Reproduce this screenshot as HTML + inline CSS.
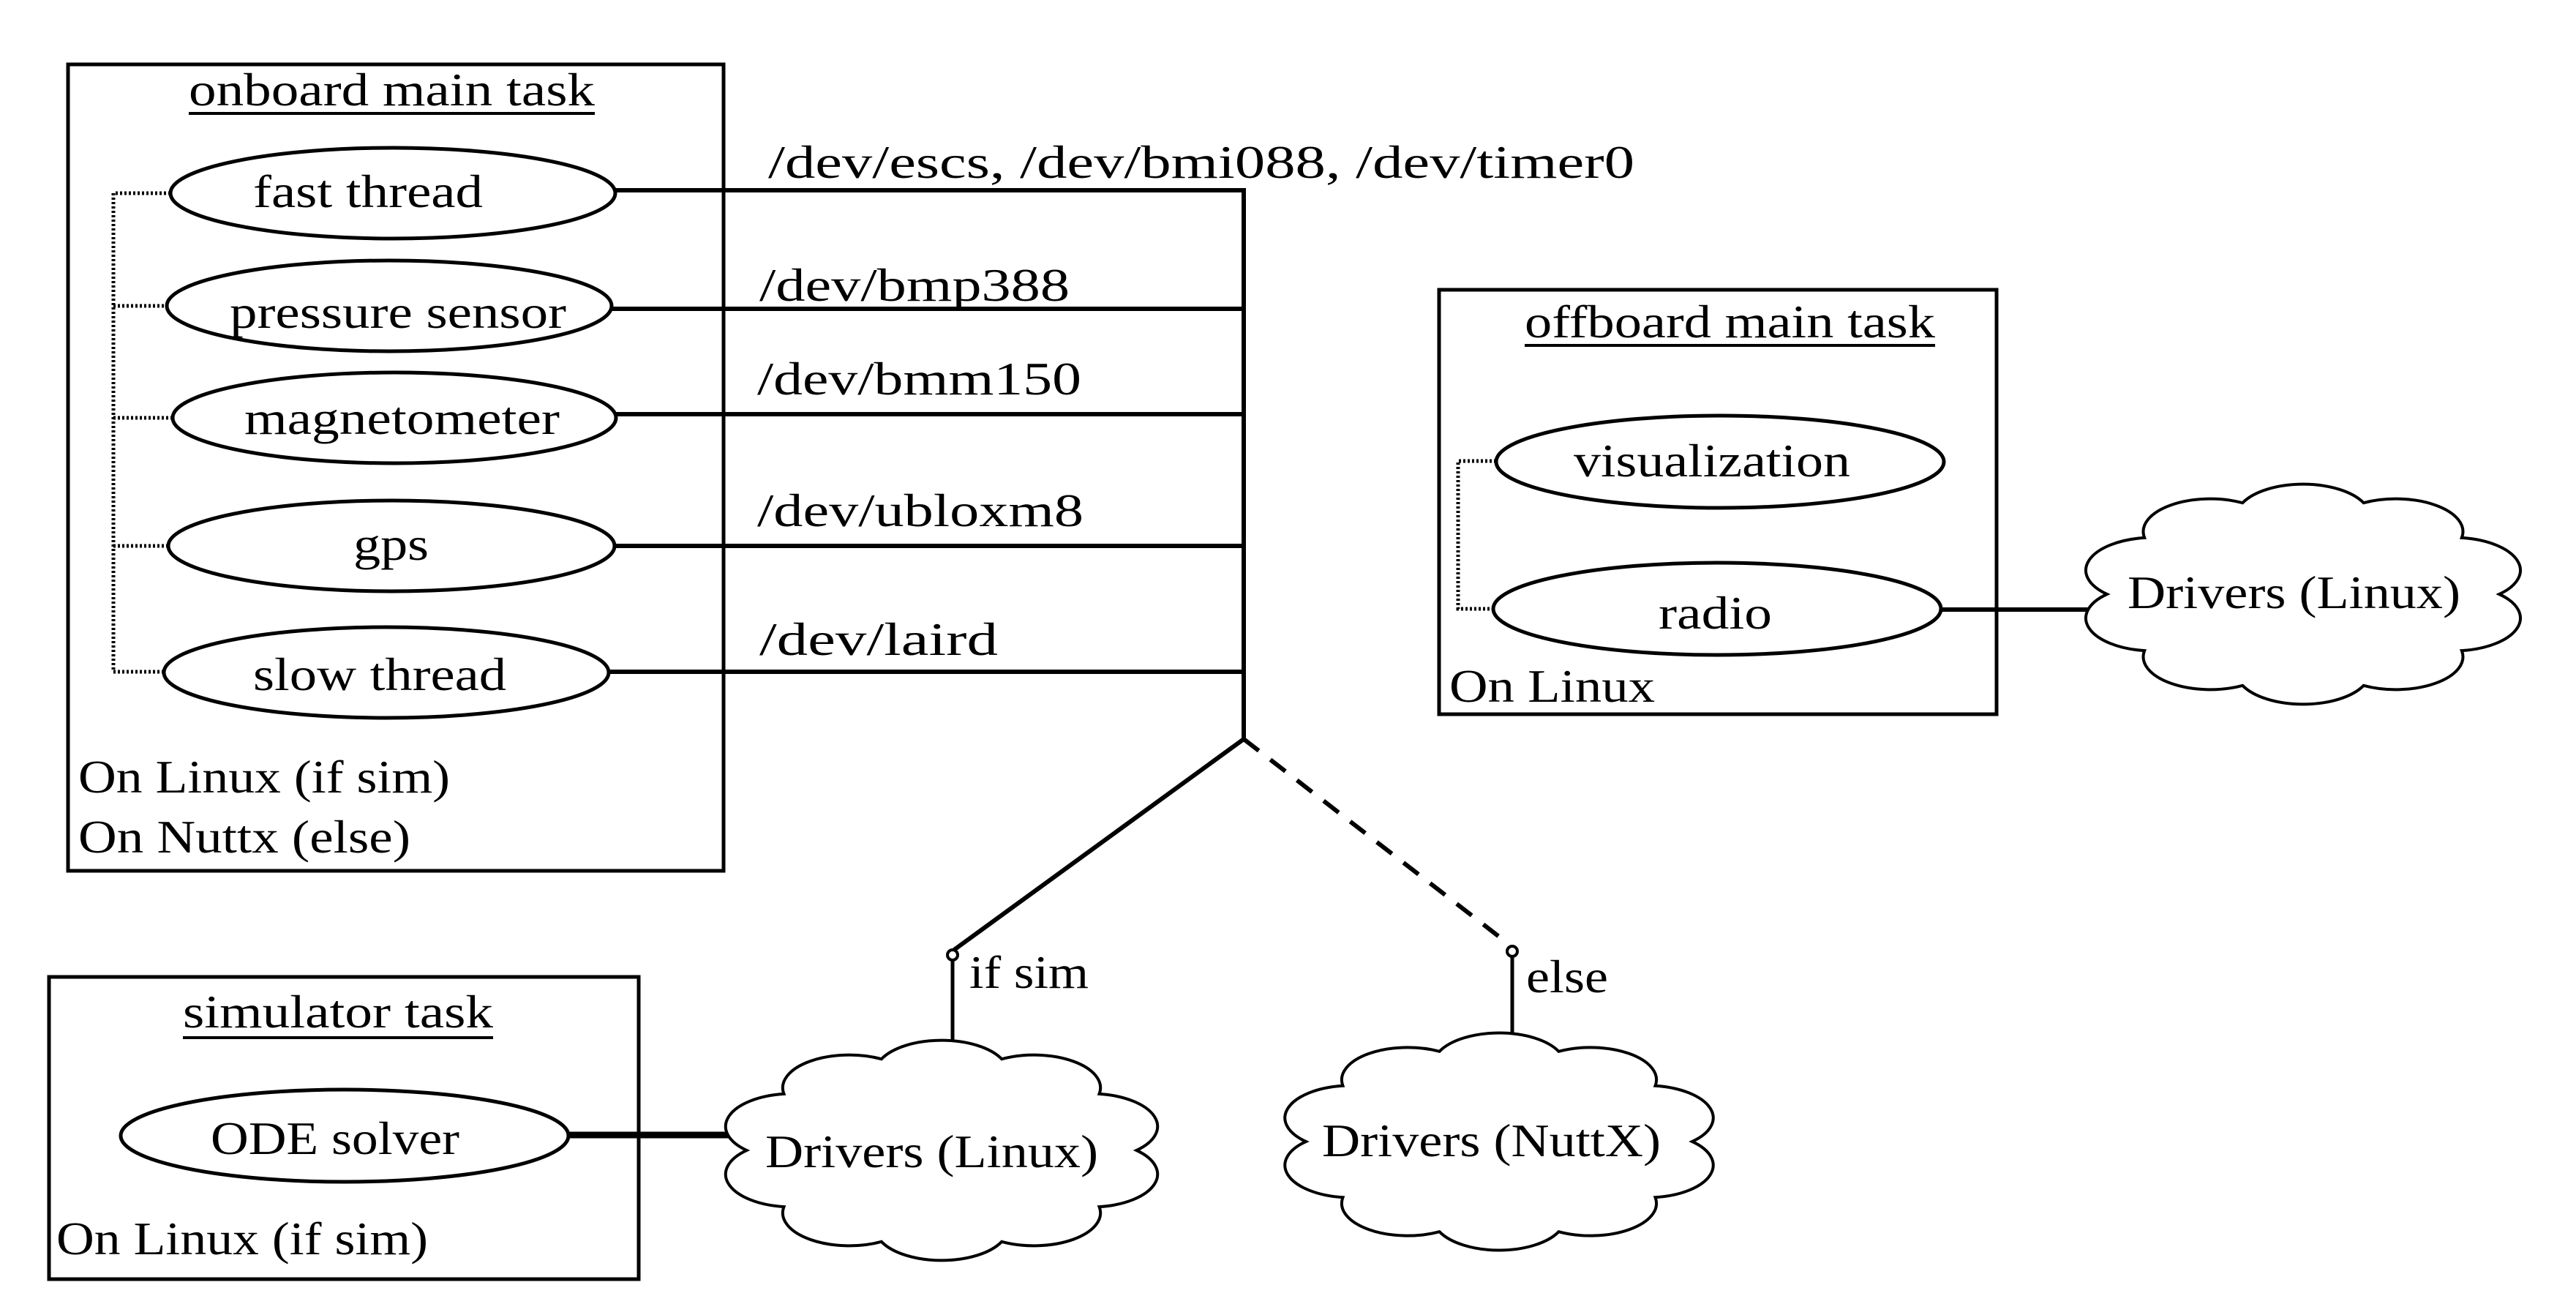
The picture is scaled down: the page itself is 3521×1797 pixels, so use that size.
<!DOCTYPE html>
<html><head><meta charset="utf-8"><style>html,body{margin:0;padding:0;background:#fff}svg{display:block}</style></head>
<body>
<svg width="3521" height="1797" viewBox="0 0 3521 1797" xmlns="http://www.w3.org/2000/svg" font-family="Liberation Serif, serif" font-size="64" fill="#000">
<g stroke="#000" fill="none">
<!-- onboard box -->
<rect x="93" y="88" width="896" height="1102" stroke-width="5"/>
<!-- connectors -->
<g stroke-width="6">
<polyline points="842,260 1700,260 1700,1010"/>
<line x1="836" y1="422" x2="1700" y2="422"/>
<line x1="842" y1="566" x2="1700" y2="566"/>
<line x1="840" y1="746" x2="1700" y2="746"/>
<line x1="833" y1="918" x2="1700" y2="918"/>
<line x1="1700" y1="1010" x2="1304" y2="1298"/>
<line x1="1302" y1="1312" x2="1302" y2="1442" stroke-width="5"/>
<line x1="1700" y1="1010" x2="2062" y2="1290" stroke-dasharray="26,20"/>
<line x1="2067" y1="1307" x2="2067" y2="1440" stroke-width="5"/>
<line x1="778" y1="1551" x2="1025" y2="1551" stroke-width="9"/>
<line x1="2653" y1="833" x2="2885" y2="833"/>
</g>
<circle cx="1302" cy="1305" r="7" stroke-width="4" fill="#fff"/>
<circle cx="2067" cy="1300" r="7" stroke-width="4" fill="#fff"/>
<!-- dotted trees -->
<g stroke-width="5" stroke-dasharray="3,3">
<polyline points="233,264 155,264 155,918 224,918"/>
<line x1="155" y1="418" x2="228" y2="418"/>
<line x1="155" y1="571" x2="236" y2="571"/>
<line x1="155" y1="746" x2="230" y2="746"/>
<polyline points="2045,630 1993,630 1993,832 2042,832"/>
</g>
<!-- ellipses -->
<g stroke-width="5" fill="#fff">
<ellipse cx="537" cy="264" rx="304" ry="62"/>
<ellipse cx="532" cy="418" rx="304" ry="62"/>
<ellipse cx="539" cy="571" rx="303" ry="62"/>
<ellipse cx="535" cy="746" rx="305" ry="62"/>
<ellipse cx="528" cy="919" rx="304" ry="62"/>
<ellipse cx="2351" cy="631" rx="306" ry="63"/>
<ellipse cx="2347" cy="832" rx="306" ry="63"/>
<ellipse cx="471" cy="1552" rx="306" ry="63"/>
</g>
<!-- other boxes -->
<rect x="1967" y="396" width="762" height="580" stroke-width="5"/>
<rect x="67" y="1335" width="806" height="413" stroke-width="5"/>
<!-- clouds -->
<g stroke-width="4" fill="#fff">
<path d="M1553.5,1572 A91,44.8 0 0 1 1502.5,1649.1 A91,44.8 0 0 1 1369.2,1696.8 A91,44.8 0 0 1 1204.8,1696.8 A91,44.8 0 0 1 1071.5,1649.1 A91,44.8 0 0 1 1020.5,1572 A91,44.8 0 0 1 1071.5,1494.9 A91,44.8 0 0 1 1204.8,1447.2 A91,44.8 0 0 1 1369.2,1447.2 A91,44.8 0 0 1 1502.5,1494.9 A91,44.8 0 0 1 1553.5,1572 Z"/>
<path d="M2313,1560 A90.2,44.2 0 0 1 2262.5,1636.2 A90.2,44.2 0 0 1 2130.5,1683.2 A90.2,44.2 0 0 1 1967.5,1683.2 A90.2,44.2 0 0 1 1835.5,1636.2 A90.2,44.2 0 0 1 1785,1560 A90.2,44.2 0 0 1 1835.5,1483.8 A90.2,44.2 0 0 1 1967.5,1436.8 A90.2,44.2 0 0 1 2130.5,1436.8 A90.2,44.2 0 0 1 2262.5,1483.8 A90.2,44.2 0 0 1 2313,1560 Z"/>
<path d="M3416.1,812 A91.6,44.8 0 0 1 3364.8,889.1 A91.6,44.8 0 0 1 3230.7,936.8 A91.6,44.8 0 0 1 3065.3,936.8 A91.6,44.8 0 0 1 2931.2,889.1 A91.6,44.8 0 0 1 2879.9,812 A91.6,44.8 0 0 1 2931.2,734.9 A91.6,44.8 0 0 1 3065.3,687.2 A91.6,44.8 0 0 1 3230.7,687.2 A91.6,44.8 0 0 1 3364.8,734.9 A91.6,44.8 0 0 1 3416.1,812 Z"/>
</g>
<!-- underlines -->
<line x1="258" y1="155" x2="813" y2="155" stroke-width="4"/>
<line x1="2084" y1="472" x2="2645" y2="472" stroke-width="4"/>
<line x1="250" y1="1418" x2="674" y2="1418" stroke-width="4"/>
</g>
<g stroke="none">
<text x="258" y="144" textLength="555" lengthAdjust="spacingAndGlyphs">onboard main task</text>
<text x="346" y="283" textLength="314" lengthAdjust="spacingAndGlyphs">fast thread</text>
<text x="314" y="448" textLength="460" lengthAdjust="spacingAndGlyphs">pressure sensor</text>
<text x="334" y="593" textLength="431" lengthAdjust="spacingAndGlyphs">magnetometer</text>
<text x="483" y="765" textLength="103" lengthAdjust="spacingAndGlyphs">gps</text>
<text x="346" y="943" textLength="346" lengthAdjust="spacingAndGlyphs">slow thread</text>
<text x="107" y="1083" textLength="508" lengthAdjust="spacingAndGlyphs">On Linux (if sim)</text>
<text x="107" y="1165" textLength="454" lengthAdjust="spacingAndGlyphs">On Nuttx (else)</text>
<text x="1050" y="243" textLength="1184" lengthAdjust="spacingAndGlyphs">/dev/escs, /dev/bmi088, /dev/timer0</text>
<text x="1038" y="411" textLength="424" lengthAdjust="spacingAndGlyphs">/dev/bmp388</text>
<text x="1035" y="539" textLength="443" lengthAdjust="spacingAndGlyphs">/dev/bmm150</text>
<text x="1035" y="719" textLength="446" lengthAdjust="spacingAndGlyphs">/dev/ubloxm8</text>
<text x="1038" y="895" textLength="326" lengthAdjust="spacingAndGlyphs">/dev/laird</text>
<text x="1325" y="1350" textLength="163" lengthAdjust="spacingAndGlyphs">if sim</text>
<text x="2086" y="1356" textLength="112" lengthAdjust="spacingAndGlyphs">else</text>
<text x="250" y="1404" textLength="424" lengthAdjust="spacingAndGlyphs">simulator task</text>
<text x="288" y="1577" textLength="340" lengthAdjust="spacingAndGlyphs">ODE solver</text>
<text x="77" y="1714" textLength="508" lengthAdjust="spacingAndGlyphs">On Linux (if sim)</text>
<text x="1046" y="1595" textLength="455" lengthAdjust="spacingAndGlyphs">Drivers (Linux)</text>
<text x="1807" y="1580" textLength="463" lengthAdjust="spacingAndGlyphs">Drivers (NuttX)</text>
<text x="2084" y="461" textLength="561" lengthAdjust="spacingAndGlyphs">offboard main task</text>
<text x="2151" y="651" textLength="378" lengthAdjust="spacingAndGlyphs">visualization</text>
<text x="2267" y="859" textLength="155" lengthAdjust="spacingAndGlyphs">radio</text>
<text x="1981" y="959" textLength="281" lengthAdjust="spacingAndGlyphs">On Linux</text>
<text x="2908" y="831" textLength="455" lengthAdjust="spacingAndGlyphs">Drivers (Linux)</text>
</g>
</svg>
</body></html>
